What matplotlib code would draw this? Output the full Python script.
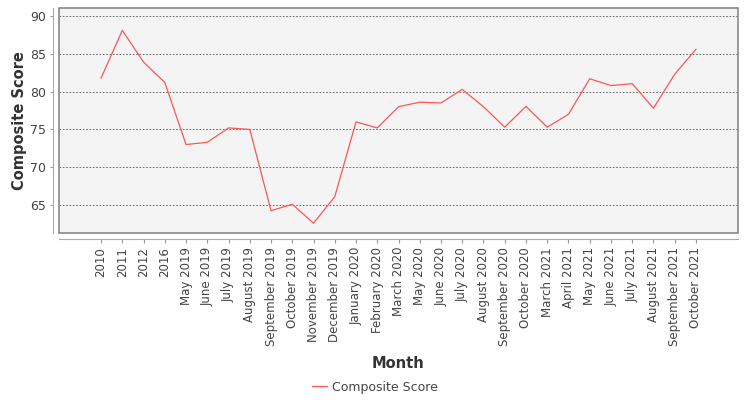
import matplotlib.pyplot as plt
from matplotlib.patches import Rectangle

# Monthly composite scores
months = ['2010', '2011', '2012', '2016', 'May 2019', 'June 2019', 'July 2019',
          'August 2019', 'September 2019', 'October 2019', 'November 2019',
          'December 2019', 'January 2020', 'February 2020', 'March 2020',
          'May 2020', 'June 2020', 'July 2020', 'August 2020', 'September 2020',
          'October 2020', 'March 2021', 'April 2021', 'May 2021', 'June 2021',
          'July 2021', 'August 2021', 'September 2021', 'October 2021']
scores = [81.8, 88.1, 83.9, 81.2, 73.0, 73.3, 75.2, 75.0, 64.25, 65.1, 62.6,
          66.1, 76.0, 75.2, 78.0, 78.6, 78.5, 80.3, 78.0, 75.3, 78.05, 75.3,
          77.0, 81.7, 80.8, 81.05, 77.8, 82.3, 85.6]
y_ticks = [65, 70, 75, 80, 85, 90]

fig = plt.figure(figsize=(7.5, 4), dpi=100)
ax = fig.add_axes([59 / 750, 1 - 233 / 400, (738 - 59) / 750, (233 - 8) / 400])
ax.set_facecolor('#f4f4f4')

# box around the plot area plus offset axis lines (do this first, it resets ticks)
for side in ['top', 'right']:
    ax.spines[side].set_visible(False)
for side in ['left', 'bottom']:
    ax.spines[side].set_position(('outward', 4))
    ax.spines[side].set_color('#aaaaaa')
ax.add_patch(Rectangle((0, 0), 1, 1, transform=ax.transAxes, fill=False,
                       edgecolor='#888888', linewidth=1.2, clip_on=False))

x = list(range(len(months)))
line, = ax.plot(x, scores, color='#ff5555', linewidth=0.9, label='Composite Score')

ax.set_xlim(-1.98, len(months) - 1 + 1.98)
ax.set_ylim(61.3, 91.06)
ax.set_yticks(y_ticks)
ax.set_xticks(x)
ax.set_xticklabels(months, rotation=90, fontsize=8.5, color='#444444')
ax.tick_params(axis='y', labelsize=9, labelcolor='#444444', length=2, color='#999999')
ax.tick_params(axis='x', length=3, color='#999999', pad=3)
ax.yaxis.grid(True, color='#555555', linestyle=(0, (2, 2)), linewidth=0.6)
ax.set_axisbelow(True)

ax.set_ylabel('Composite Score', fontsize=10.5, fontweight='bold', color='#333333')
ax.yaxis.set_label_coords(-0.047, 0.5)
fig.text(398 / 750, 1 - 364 / 400, 'Month', fontsize=10.5, fontweight='bold',
         color='#333333', ha='center', va='center')

fig.legend(handles=[line], loc='center', bbox_to_anchor=(375 / 750, 1 - 387 / 400),
           frameon=False, fontsize=9, handlelength=1.2, handletextpad=0.4,
           labelcolor='#444444')

fig.savefig('out.png', dpi=100)
